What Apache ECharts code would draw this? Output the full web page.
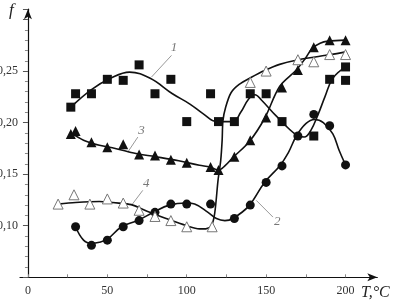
<!DOCTYPE html>
<html><head><meta charset="utf-8">
<script src="https://cdn.jsdelivr.net/npm/echarts@6/dist/echarts.min.js"></script>
<style>html,body{margin:0;padding:0;background:#fff}#c{width:398px;height:302px}</style>
</head><body><div id="c"></div>
<script>
// ---- data ----
const xTickLabels = [0, 50, 100, 150, 200];
const xTicks = [0, 25, 50, 75, 100, 125, 150, 175, 200];
const yTickLabels = [0.10, 0.15, 0.20, 0.25];

// measured points
const points1 = [[27,0.215],[30,0.228],[40,0.228],[50,0.242],[60,0.241],[70,0.256],[80,0.228],[90,0.242],[100,0.201],[115,0.228],[120,0.201],[130,0.201],[140,0.228],[150,0.228],[160,0.201],[180,0.187],[190,0.242],[200,0.241],[200,0.254]];
const points2 = [[30,0.099],[40,0.081],[50,0.086],[60,0.099],[70,0.105],[80,0.113],[90,0.121],[100,0.121],[115,0.121],[130,0.107],[140,0.120],[150,0.142],[160,0.158],[170,0.187],[180,0.208],[190,0.197],[200,0.159]];
const points3 = [[27,0.189],[30,0.192],[40,0.181],[50,0.176],[60,0.179],[70,0.169],[80,0.168],[90,0.164],[100,0.161],[115,0.157],[120,0.154],[130,0.167],[140,0.183],[150,0.205],[160,0.234],[170,0.251],[180,0.273],[190,0.280],[200,0.280]];
const points4 = [[19,0.121],[29,0.130],[39,0.121],[50,0.126],[60,0.122],[70,0.115],[80,0.109],[90,0.105],[100,0.099],[116,0.099],[140,0.239],[150,0.250],[170,0.261],[180,0.259],[190,0.266],[200,0.266]];

// fitted curves
const curve1 = [[27,0.215],[40,0.232],[52,0.243],[64,0.249],[77,0.243],[91,0.228],[102,0.218],[110,0.209],[119,0.201],[129,0.201],[134,0.210],[139,0.223],[143,0.227],[147,0.222],[156,0.207],[169,0.188],[174,0.186],[178,0.192],[183,0.209],[187,0.225],[192,0.243],[200,0.254]];
const curve2 = [[30,0.099],[35,0.086],[40,0.083],[45,0.084],[50,0.087],[59,0.099],[69,0.105],[79,0.113],[89,0.120],[100,0.122],[105,0.121],[113.4,0.113],[118.7,0.107],[124,0.105],[129,0.107],[139,0.119],[149,0.142],[158.5,0.158],[164,0.171],[169,0.187],[175,0.199],[180.5,0.203],[186,0.200],[192,0.189],[196,0.173],[200,0.159]];
const curve3 = [[27,0.190],[35,0.183],[45,0.178],[55,0.175],[68,0.170],[80,0.167],[95,0.163],[108,0.1586],[114.5,0.157],[120,0.154],[124,0.158],[129,0.166],[139.6,0.182],[149,0.204],[158.5,0.235],[169,0.251],[175,0.263],[179,0.272],[184,0.277],[189,0.279],[200,0.280]];
const curve4 = [[19,0.121],[30,0.1225],[45,0.1235],[60,0.1215],[66,0.120],[75,0.114],[87,0.107],[100,0.100],[108,0.097],[112,0.097],[115.5,0.100],[117.6,0.112],[119.7,0.144],[121.4,0.1634],[122.3,0.183],[122.8,0.202],[124.5,0.215],[127.9,0.229],[133,0.237],[140.4,0.2437],[149,0.2505],[158.5,0.2565],[170.4,0.261],[190.8,0.266],[200,0.2686]];

// curve number labels and their leader lines
const curveNames = ['1', '2', '3', '4'];
const labelPos = [[92,0.273],[157,0.1045],[71.5,0.192],[74.5,0.141]];
const leaders = [
  [[77.8,0.2442],[90.4,0.2652]],
  [[143.8,0.1246],[154.3,0.1084]],
  [[62.9,0.1715],[69.2,0.186]],
  [[65.2,0.1198],[72.3,0.1343]]
];

const serif = 'Liberation Serif';
const chart = echarts.init(document.getElementById('c'), null, {renderer: 'canvas'});

function curveSeries(data, sm) {
  return {type: 'line', data: data, smooth: sm, showSymbol: false, symbol: 'none',
    lineStyle: {color: '#111', width: 1.6}, z: 2, silent: true, animation: false};
}
function pointSeries(data, symbol, size, filled) {
  return {type: 'scatter', data: data, symbol: symbol, symbolSize: size,
    itemStyle: filled ? {color: '#111', opacity: 1} : {color: '#fff', borderColor: '#777', borderWidth: 1, opacity: 1},
    z: 3, animation: false};
}

const series = [
  curveSeries(curve1, 0.4), curveSeries(curve2, 0.4), curveSeries(curve3, 0.35), curveSeries(curve4, 0.3),
  pointSeries(points1, 'rect', 9, true),
  pointSeries(points2, 'circle', 9, true),
  pointSeries(points3, 'triangle', 10, true),
  pointSeries(points4, 'triangle', 10, false),
  {type: 'lines', coordinateSystem: 'cartesian2d', data: leaders.map(l => ({coords: l})),
    lineStyle: {color: '#999', width: 1, opacity: 1}, z: 1, animation: false},
  {type: 'scatter', symbolSize: 0, z: 4, animation: false,
    data: labelPos.map((p, i) => ({value: p, name: curveNames[i]})),
    label: {show: true, position: 'inside', formatter: p => p.name,
      fontFamily: serif, fontStyle: 'italic', fontSize: 13, color: '#555'}}
];

chart.setOption({
  animation: false,
  backgroundColor: '#fff',
  grid: {left: 20, right: 20.7, top: 9.2, bottom: 24.7, containLabel: false, outerBoundsMode: 'none'},
  xAxis: {
    type: 'value', min: -5, max: 220, interval: 5,
    axisLine: {show: true, onZero: false, symbol: ['none', 'arrow'], symbolSize: [6, 10],
      lineStyle: {color: '#111', width: 1.2}},
    axisTick: {show: true, inside: true, length: 3, customValues: xTicks, lineStyle: {color: '#888'}},
    axisLabel: {customValues: xTickLabels, fontFamily: serif, fontSize: 12, color: '#333', margin: 8},
    splitLine: {show: false}
  },
  yAxis: {
    type: 'value', min: 0.05, max: 0.31, interval: 0.05,
    axisLine: {show: true, onZero: true, symbol: ['none', 'arrow'], symbolSize: [6, 10],
      lineStyle: {color: '#111', width: 1.2}},
    axisTick: {show: true, inside: false, length: 5, lineStyle: {color: '#555'}},
    minorTick: {show: true, splitNumber: 5, length: 3, lineStyle: {color: '#888'}},
    axisLabel: {customValues: yTickLabels, fontFamily: serif, fontSize: 12, color: '#333', margin: 2,
      formatter: v => v.toFixed(2).replace('.', ',')},
    splitLine: {show: false}, minorSplitLine: {show: false}
  },
  graphic: [
    {type: 'text', left: 9, top: 2, style: {text: 'f', font: 'italic 17px "Liberation Serif"', fill: '#222'}},
    {type: 'text', left: 361, top: 285, style: {text: 'T,°C', font: 'italic 16px "Liberation Serif"', fill: '#222'}}
  ],
  series: series
});
</script></body></html>
